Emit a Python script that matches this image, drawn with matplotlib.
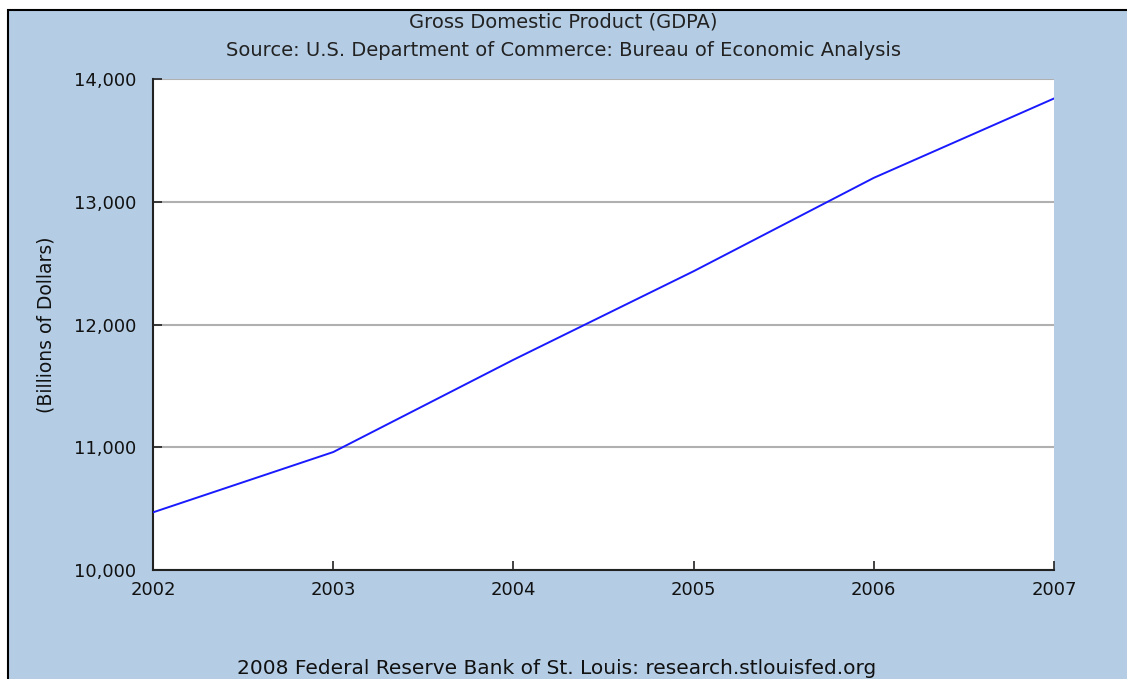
import matplotlib
matplotlib.use("Agg")
import matplotlib.pyplot as plt
from matplotlib.patches import Rectangle
from matplotlib.ticker import FuncFormatter

years = [2002, 2003, 2004, 2005, 2006, 2007]
gdp = [10469.6, 10960.8, 11712.5, 12433.9, 13194.7, 13841.3]
y_ticks = [10000, 11000, 12000, 13000, 14000]

title = "Gross Domestic Product (GDPA)"
subtitle = "Source: U.S. Department of Commerce: Bureau of Economic Analysis"
ylabel = "(Billions of Dollars)"
footer = "2008 Federal Reserve Bank of St. Louis: research.stlouisfed.org"

BG = "#b4cde5"
W, H = 1127, 679
fig = plt.figure(figsize=(W / 100, H / 100), dpi=100)
fig.patch.set_facecolor("white")
frame = Rectangle((8 / W, -0.1), 1.2, (H - 10) / H + 0.1, transform=fig.transFigure,
                  facecolor=BG, edgecolor="black", linewidth=1.5, zorder=-1)
fig.add_artist(frame)

ax = fig.add_axes([153 / W, 1 - 570 / H, (1054 - 153) / W, (570 - 79) / H])
ax.set_facecolor("white")
ax.plot(years, gdp, color="#1a1aff", linewidth=1.4, zorder=3)
ax.set_xlim(years[0], years[-1])
ax.set_ylim(y_ticks[0], y_ticks[-1])
ax.set_xticks(years)
ax.set_yticks(y_ticks)
ax.yaxis.set_major_formatter(FuncFormatter(lambda v, p: f"{int(v):,}"))
ax.grid(axis="y", color="#b0b0b0", linewidth=1.5)
for s in ["top", "right"]:
    ax.spines[s].set_visible(False)
for s in ["left", "bottom"]:
    ax.spines[s].set_color("#222222")
    ax.spines[s].set_linewidth(1.5)
ax.tick_params(axis="both", direction="in", length=6.5, width=1.2, color="#222222",
               labelsize=13, labelcolor="#111111")
ax.tick_params(axis="y", pad=12)
ax.tick_params(axis="x", pad=8)
ax.set_ylabel(ylabel, fontsize=13.5, color="#111111", labelpad=13)

fig.text(0.5, 1 - 22 / H, title, ha="center", va="center", fontsize=14, color="#222222")
fig.text(0.5, 1 - 50 / H, subtitle, ha="center", va="center", fontsize=14, color="#222222")
fig.text(557 / W, 1 - 668 / H, footer, ha="center", va="center", fontsize=14.5, color="#111111")

fig.savefig("out.png", dpi=100, facecolor=fig.get_facecolor())
